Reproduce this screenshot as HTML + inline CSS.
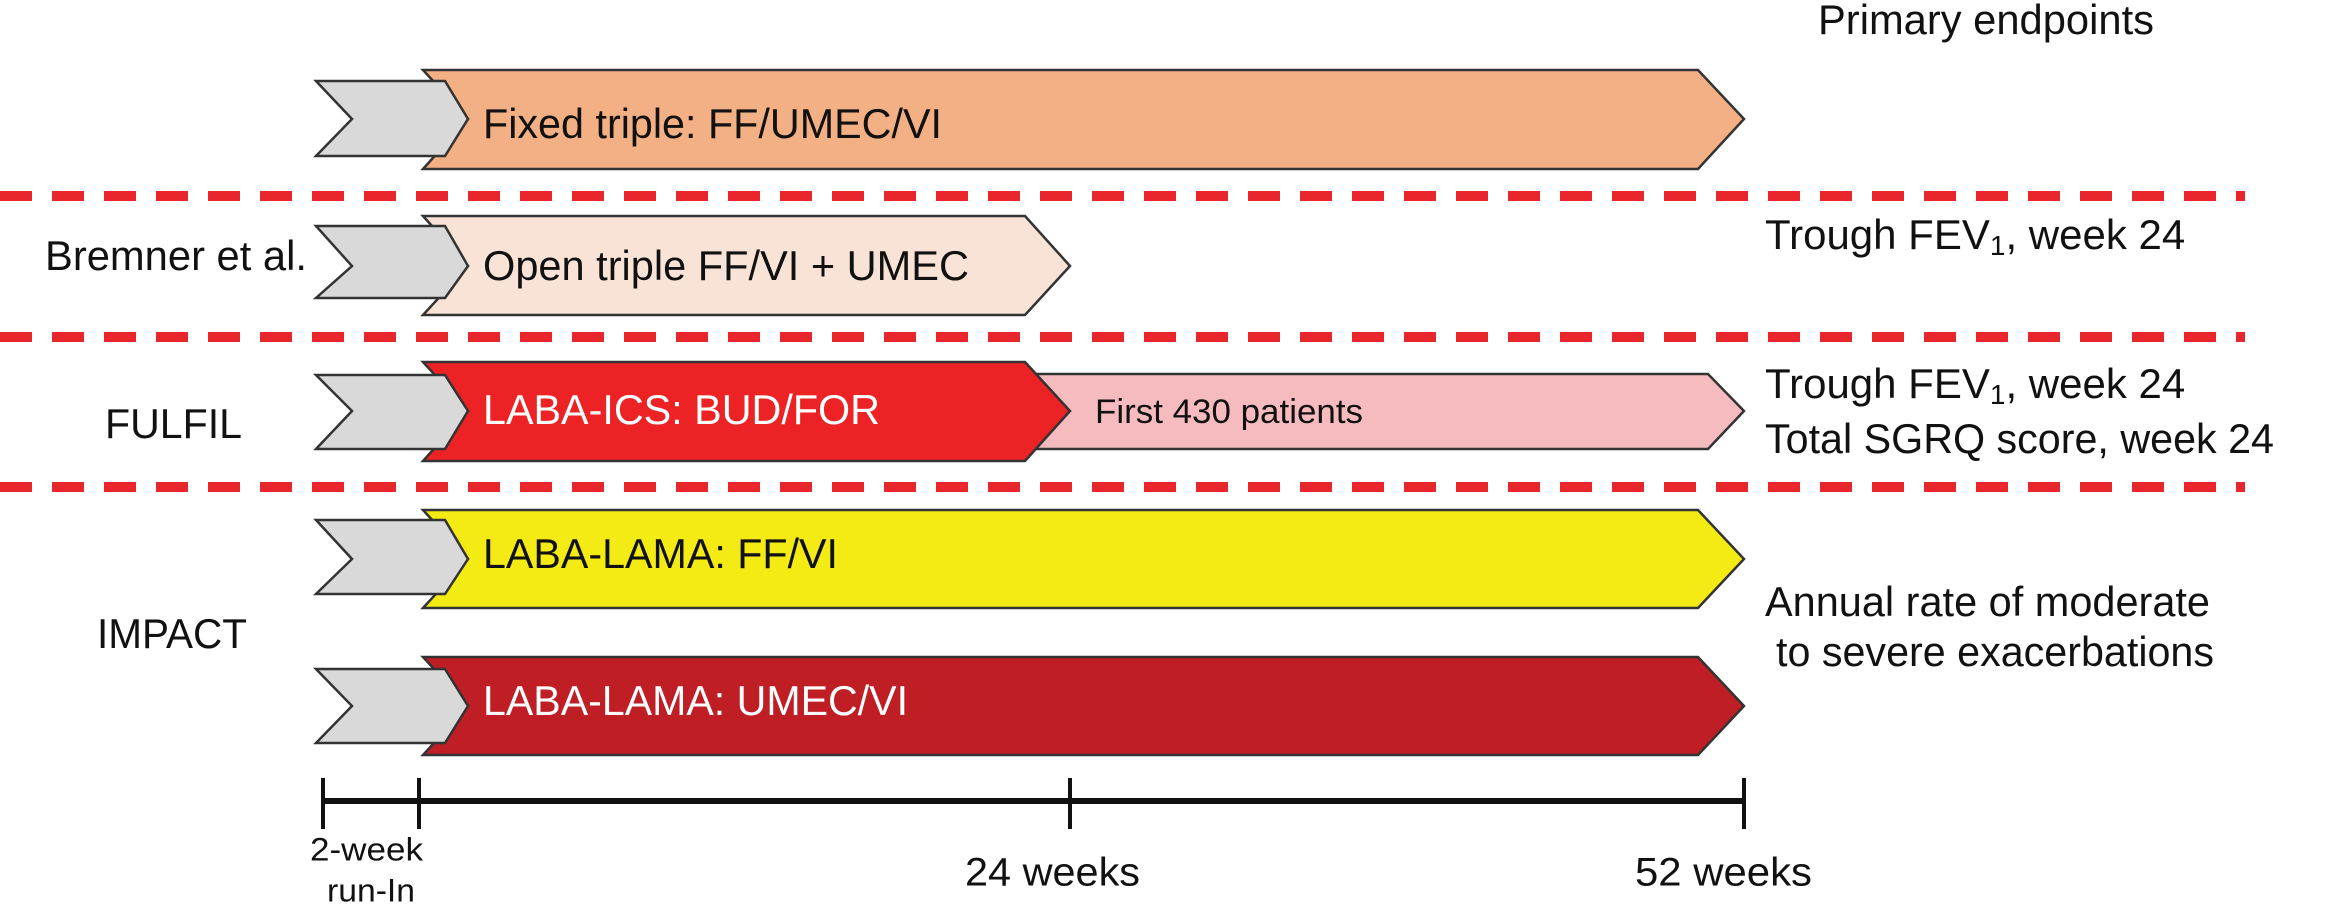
<!DOCTYPE html>
<html><head><meta charset="utf-8"><style>
html,body{margin:0;padding:0;background:#fff;}
svg{display:block;}
text{font-family:"Liberation Sans",Arial,sans-serif;}
</style></head><body>
<svg width="2346" height="912" viewBox="0 0 2346 912" xmlns="http://www.w3.org/2000/svg">
<g stroke="#e8262b" stroke-width="10" stroke-dasharray="32 20">
<line x1="0" y1="196" x2="2245" y2="196"/>
<line x1="0" y1="337" x2="2245" y2="337"/>
<line x1="0" y1="487" x2="2245" y2="487"/>
</g>
<g stroke="#333" stroke-width="2.5">
<polygon points="423,70 1698,70 1744,119 1698,169 423,169 468,119" fill="#f3b084"/>
<polygon points="316,81 445,81 468,119 445,156 316,156 352,119" fill="#d9d9da"/>
<polygon points="423,216 1025,216 1070,266 1025,315 423,315 468,266" fill="#f9e3d7"/>
<polygon points="316,226 445,226 468,266 445,298 316,298 352,266" fill="#d9d9da"/>
<polygon points="1000,374 1708,374 1744,411 1708,449 1000,449" fill="#f6bbbf"/>
<polygon points="423,362 1025,362 1070,411 1025,461 423,461 468,411" fill="#ed2224"/>
<polygon points="316,375 445,375 468,411 445,449 316,449 352,411" fill="#d9d9da"/>
<polygon points="423,510 1698,510 1744,559 1698,608 423,608 468,559" fill="#f4ea14"/>
<polygon points="316,520 445,520 468,559 445,594 316,594 352,559" fill="#d9d9da"/>
<polygon points="423,657 1698,657 1744,706 1698,755 423,755 468,706" fill="#be1e24"/>
<polygon points="316,669 445,669 468,706 445,743 316,743 352,706" fill="#d9d9da"/>
</g>
<g font-size="42" dominant-baseline="middle" lengthAdjust="spacingAndGlyphs">
<text x="483" y="127" fill="#111" textLength="459" lengthAdjust="spacingAndGlyphs">Fixed triple: FF/UMEC/VI</text>
<text x="483" y="269" fill="#111" textLength="486" lengthAdjust="spacingAndGlyphs">Open triple FF/VI + UMEC</text>
<text x="483" y="413" fill="#fff" textLength="397" lengthAdjust="spacingAndGlyphs">LABA-ICS: BUD/FOR</text>
<text x="1095" y="414" fill="#111" font-size="34" textLength="268" lengthAdjust="spacingAndGlyphs">First 430 patients</text>
<text x="483" y="557" fill="#111" textLength="355" lengthAdjust="spacingAndGlyphs">LABA-LAMA: FF/VI</text>
<text x="483" y="704" fill="#fff" textLength="425" lengthAdjust="spacingAndGlyphs">LABA-LAMA: UMEC/VI</text>
</g>
<g font-size="42" fill="#111" dominant-baseline="middle">
<text x="45" y="259" textLength="262" lengthAdjust="spacingAndGlyphs">Bremner et al.</text>
<text x="105" y="427" textLength="137" lengthAdjust="spacingAndGlyphs">FULFIL</text>
<text x="97" y="637" textLength="150" lengthAdjust="spacingAndGlyphs">IMPACT</text>
<text x="1818" y="23" textLength="336" lengthAdjust="spacingAndGlyphs">Primary endpoints</text>
<text x="1765" y="238">Trough FEV<tspan font-size="28" dy="10">1</tspan><tspan dy="-10">, week 24</tspan></text>
<text x="1765" y="387">Trough FEV<tspan font-size="28" dy="10">1</tspan><tspan dy="-10">, week 24</tspan></text>
<text x="1765" y="442" textLength="509" lengthAdjust="spacingAndGlyphs">Total SGRQ score, week 24</text>
<text x="1765" y="605" textLength="445" lengthAdjust="spacingAndGlyphs">Annual rate of moderate</text>
<text x="1776" y="655" textLength="438" lengthAdjust="spacingAndGlyphs">to severe exacerbations</text>
</g>
<g stroke="#111" stroke-width="4">
<line x1="323" y1="801" x2="1744" y2="801" stroke-width="6"/>
<line x1="323" y1="778" x2="323" y2="829"/>
<line x1="419" y1="778" x2="419" y2="829"/>
<line x1="1070" y1="778" x2="1070" y2="829"/>
<line x1="1744" y1="778" x2="1744" y2="829"/>
</g>
<g fill="#111" dominant-baseline="middle">
<text x="310" y="852" font-size="32" textLength="113" lengthAdjust="spacingAndGlyphs">2-week</text>
<text x="327" y="893" font-size="32" textLength="88" lengthAdjust="spacingAndGlyphs">run-In</text>
<text x="965" y="875" font-size="40" textLength="175" lengthAdjust="spacingAndGlyphs">24 weeks</text>
<text x="1635" y="875" font-size="40" textLength="177" lengthAdjust="spacingAndGlyphs">52 weeks</text>
</g>
</svg>
</body></html>
